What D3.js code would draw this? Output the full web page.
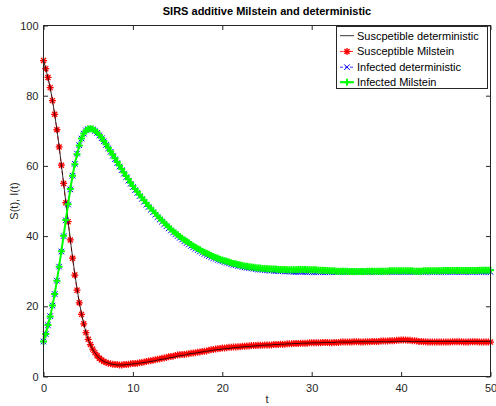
<!DOCTYPE html>
<html>
<head>
<meta charset="utf-8">
<script src="https://cdn.jsdelivr.net/npm/d3@7"></script>
<style>
  html, body { margin: 0; padding: 0; background: #fff; }
  svg { display: block; font-family: "Liberation Sans", Arial, Helvetica, sans-serif; }
</style>
</head>
<body>
<svg id="chart" width="496" height="406"></svg>
<script>
// Simulation step (time units) shared by all four trajectories
const dt = 0.25;

// Susceptible, deterministic ODE solution, t = 0 .. 50
const susDet = [
  90.0, 87.7, 85.1, 82.2, 78.7, 74.7, 70.3, 65.5, 60.3, 55.0, 49.6, 44.2, 39.0, 34.0, 29.3, 25.0, 21.2, 17.9, 15.0, 12.6,
  10.6, 9.0, 7.7, 6.7, 5.9, 5.2, 4.7, 4.3, 4.0, 3.8, 3.6, 3.5, 3.4, 3.3, 3.3, 3.3, 3.3, 3.4, 3.4, 3.5,
  3.6, 3.6, 3.7, 3.8, 3.9, 4.0, 4.1, 4.2, 4.3, 4.4, 4.5, 4.7, 4.8, 4.9, 5.0, 5.1, 5.3, 5.4, 5.5, 5.6,
  5.8, 5.9, 6.0, 6.1, 6.3, 6.4, 6.5, 6.6, 6.7, 6.8, 6.9, 7.0, 7.1, 7.2, 7.3, 7.4, 7.5, 7.6, 7.7, 7.7,
  7.8, 7.9, 8.0, 8.0, 8.1, 8.2, 8.2, 8.3, 8.4, 8.4, 8.5, 8.5, 8.6, 8.6, 8.7, 8.7, 8.8, 8.8, 8.9, 8.9,
  9.0, 9.0, 9.0, 9.1, 9.1, 9.1, 9.2, 9.2, 9.2, 9.3, 9.3, 9.3, 9.4, 9.4, 9.4, 9.4, 9.5, 9.5, 9.5, 9.5,
  9.6, 9.6, 9.6, 9.6, 9.6, 9.7, 9.7, 9.7, 9.7, 9.7, 9.7, 9.8, 9.8, 9.8, 9.8, 9.8, 9.8, 9.8, 9.8, 9.9,
  9.9, 9.9, 9.9, 9.9, 9.9, 9.9, 9.9, 9.9, 9.9, 9.9, 9.9, 9.9, 9.9, 9.9, 9.9, 9.9, 10.0, 10.0, 10.0, 10.0,
  10.0, 10.0, 10.0, 10.0, 10.0, 10.0, 10.0, 10.0, 10.0, 10.0, 10.0, 10.0, 10.0, 10.0, 10.0, 10.0, 10.0, 10.0, 10.0, 10.0,
  10.0, 10.0, 10.0, 10.0, 10.0, 10.0, 10.0, 10.0, 10.0, 10.0, 10.0, 10.0, 10.0, 10.0, 10.0, 10.0, 10.0, 10.0, 10.0, 10.0,
  10.0
];

// Susceptible, additive-noise Milstein path
const susMil = [
  90.0, 87.7, 85.2, 82.3, 78.6, 74.7, 70.3, 65.4, 60.2, 55.0, 49.5, 44.1, 38.9, 33.7, 28.9, 24.6, 21.0, 17.7, 15.0, 12.5,
  10.6, 9.1, 7.8, 6.8, 5.9, 5.2, 4.7, 4.3, 4.0, 3.8, 3.6, 3.5, 3.4, 3.4, 3.3, 3.3, 3.4, 3.4, 3.5, 3.6,
  3.7, 3.7, 3.8, 3.9, 4.0, 4.1, 4.3, 4.4, 4.5, 4.6, 4.8, 4.9, 5.0, 5.2, 5.3, 5.4, 5.6, 5.7, 5.8, 6.0,
  6.1, 6.2, 6.3, 6.3, 6.4, 6.5, 6.6, 6.7, 6.8, 6.9, 7.0, 7.1, 7.2, 7.3, 7.5, 7.6, 7.7, 7.8, 7.9, 8.0,
  8.1, 8.1, 8.2, 8.3, 8.3, 8.4, 8.4, 8.5, 8.5, 8.6, 8.6, 8.7, 8.7, 8.8, 8.8, 8.8, 8.9, 8.9, 8.9, 9.0,
  9.0, 9.0, 9.0, 9.1, 9.1, 9.1, 9.2, 9.2, 9.2, 9.3, 9.3, 9.3, 9.4, 9.4, 9.4, 9.5, 9.5, 9.5, 9.5, 9.6,
  9.6, 9.6, 9.6, 9.6, 9.6, 9.7, 9.7, 9.7, 9.6, 9.6, 9.7, 9.7, 9.7, 9.8, 9.8, 9.8, 9.8, 9.8, 9.8, 9.9,
  9.9, 9.9, 9.8, 9.8, 9.9, 9.9, 9.9, 10.0, 10.0, 10.0, 10.0, 10.1, 10.1, 10.1, 10.1, 10.2, 10.2, 10.2, 10.3, 10.3,
  10.4, 10.4, 10.4, 10.3, 10.3, 10.2, 10.2, 10.1, 10.0, 10.0, 9.9, 9.9, 9.8, 9.8, 9.8, 9.8, 9.8, 9.8, 9.8, 9.8,
  9.8, 9.8, 9.8, 9.9, 9.9, 9.9, 9.9, 9.9, 9.8, 9.8, 9.8, 9.9, 9.9, 9.9, 9.9, 9.8, 9.8, 9.8, 9.8, 9.8,
  9.8
];

// Infected, deterministic ODE solution
const infDet = [
  10.0, 12.1, 14.6, 17.2, 20.2, 23.5, 27.3, 31.3, 35.6, 40.0, 44.5, 49.0, 53.3, 57.2, 60.6, 63.5, 65.9, 67.8, 69.2, 70.1,
  70.5, 70.6, 70.4, 70.0, 69.4, 68.7, 67.9, 67.0, 66.0, 65.0, 64.0, 62.9, 61.9, 60.8, 59.8, 58.8, 57.8, 56.8, 55.8, 54.9,
  54.0, 53.1, 52.3, 51.4, 50.6, 49.8, 49.0, 48.3, 47.5, 46.8, 46.1, 45.4, 44.7, 44.1, 43.4, 42.8, 42.2, 41.6, 41.0, 40.5,
  40.0, 39.5, 39.0, 38.5, 38.0, 37.6, 37.2, 36.8, 36.4, 36.0, 35.6, 35.3, 34.9, 34.6, 34.3, 34.0, 33.7, 33.5, 33.2, 33.0,
  32.8, 32.6, 32.4, 32.2, 32.0, 31.8, 31.7, 31.5, 31.4, 31.2, 31.1, 31.0, 30.9, 30.8, 30.7, 30.6, 30.5, 30.5, 30.4, 30.3,
  30.3, 30.2, 30.2, 30.1, 30.1, 30.0, 30.0, 30.0, 29.9, 29.9, 29.9, 29.9, 29.8, 29.8, 29.8, 29.8, 29.8, 29.8, 29.7, 29.7,
  29.7, 29.7, 29.7, 29.7, 29.7, 29.7, 29.7, 29.7, 29.7, 29.7, 29.7, 29.7, 29.7, 29.7, 29.7, 29.7, 29.7, 29.7, 29.7, 29.7,
  29.7, 29.7, 29.7, 29.7, 29.7, 29.7, 29.7, 29.7, 29.7, 29.7, 29.8, 29.8, 29.8, 29.8, 29.8, 29.8, 29.8, 29.8, 29.8, 29.8,
  29.8, 29.8, 29.8, 29.8, 29.8, 29.8, 29.8, 29.8, 29.8, 29.8, 29.8, 29.8, 29.8, 29.8, 29.8, 29.8, 29.8, 29.8, 29.8, 29.8,
  29.8, 29.8, 29.8, 29.8, 29.8, 29.8, 29.8, 29.8, 29.8, 29.8, 29.8, 29.8, 29.8, 29.8, 29.8, 29.8, 29.8, 29.8, 29.8, 29.8,
  29.8
];

// Infected, additive-noise Milstein path
const infMil = [
  10.0, 12.1, 14.7, 17.1, 20.2, 23.5, 27.3, 31.3, 35.7, 40.1, 44.6, 49.1, 53.4, 57.2, 60.5, 63.3, 65.8, 67.8, 69.2, 70.1,
  70.5, 70.6, 70.5, 70.1, 69.5, 68.8, 68.0, 67.1, 66.2, 65.2, 64.2, 63.2, 62.2, 61.1, 60.1, 59.1, 58.1, 57.1, 56.2, 55.2,
  54.3, 53.4, 52.6, 51.8, 51.0, 50.2, 49.4, 48.6, 47.9, 47.2, 46.5, 45.8, 45.1, 44.5, 43.8, 43.2, 42.6, 42.0, 41.4, 40.9,
  40.4, 39.9, 39.4, 38.9, 38.5, 38.1, 37.6, 37.2, 36.8, 36.4, 36.1, 35.7, 35.4, 35.1, 34.8, 34.5, 34.2, 33.9, 33.7, 33.4,
  33.2, 33.0, 32.8, 32.6, 32.4, 32.2, 32.1, 31.9, 31.8, 31.6, 31.5, 31.4, 31.3, 31.2, 31.1, 31.0, 30.9, 30.9, 30.8, 30.8,
  30.7, 30.7, 30.6, 30.6, 30.6, 30.5, 30.5, 30.5, 30.5, 30.4, 30.4, 30.4, 30.4, 30.4, 30.5, 30.5, 30.5, 30.5, 30.4, 30.4,
  30.4, 30.4, 30.4, 30.3, 30.3, 30.3, 30.2, 30.2, 30.1, 30.1, 30.1, 30.0, 30.0, 30.0, 30.0, 30.0, 30.0, 29.9, 29.9, 29.9,
  29.9, 29.9, 29.9, 29.9, 29.9, 30.0, 30.0, 30.0, 30.0, 30.0, 30.0, 30.0, 30.0, 30.0, 30.0, 30.1, 30.1, 30.1, 30.1, 30.1,
  30.1, 30.1, 30.1, 30.1, 30.1, 30.1, 30.0, 30.0, 30.0, 30.0, 30.1, 30.1, 30.1, 30.1, 30.1, 30.1, 30.1, 30.1, 30.1, 30.2,
  30.2, 30.2, 30.2, 30.2, 30.2, 30.2, 30.2, 30.2, 30.2, 30.2, 30.2, 30.2, 30.2, 30.2, 30.2, 30.3, 30.3, 30.3, 30.3, 30.3,
  30.3
];

const xTicks = [0, 10, 20, 30, 40, 50];
const yTicks = [0, 20, 40, 60, 80, 100];
const legendLabels = [
  "Suscpetible deterministic",
  "Susceptible Milstein",
  "Infected deterministic",
  "Infected Milstein"
];
const titleText = "SIRS additive Milstein and deterministic";
const xLabel = "t";
const yLabel = "S(t), I(t)";

// ---------------------------------------------------------------
const ink = "#262626";
const svg = d3.select("#chart");
const box = { left: 43.5, right: 490.5, top: 25.5, bottom: 376.5 };

const x = d3.scaleLinear().domain([0, 50]).range([box.left, box.right]);
const y = d3.scaleLinear().domain([0, 100]).range([box.bottom, box.top]);

const toPoints = arr => arr.map((v, i) => ({ t: i * dt, v }));
const line = d3.line().x(d => x(d.t)).y(d => y(d.v));

// marker glyphs (MATLAB-style)
function starPath(cx, cy, r) {
  const d = r * 0.72;
  return `M${cx - r},${cy}H${cx + r}M${cx},${cy - r}V${cy + r}` +
         `M${cx - d},${cy - d}L${cx + d},${cy + d}M${cx - d},${cy + d}L${cx + d},${cy - d}`;
}
function crossPath(cx, cy, r) {
  return `M${cx - r},${cy - r}L${cx + r},${cy + r}M${cx - r},${cy + r}L${cx + r},${cy - r}`;
}
function plusPath(cx, cy, r) {
  return `M${cx - r},${cy}H${cx + r}M${cx},${cy - r}V${cy + r}`;
}

const series = {
  sDet: { data: toPoints(susDet), color: "#000000", width: 0.8, dash: null, marker: null, mr: 0, mw: 0 },
  sMil: { data: toPoints(susMil), color: "#ff0000", width: 0.8, dash: "4,3", marker: starPath, mr: 3.5, mw: 1.3 },
  iDet: { data: toPoints(infDet), color: "#0000ff", width: 0.8, dash: "4,3", marker: crossPath, mr: 2.8, mw: 1 },
  iMil: { data: toPoints(infMil), color: "#00ff00", width: 2, dash: null, marker: plusPath, mr: 3.5, mw: 2 }
};

// axes frame + ticks
const gx = svg.append("g");
const bottomAxis = d3.axisBottom(x).tickValues(xTicks).tickSizeInner(-4.5).tickSizeOuter(0).tickPadding(8);
const topAxis = d3.axisTop(x).tickValues(xTicks).tickSizeInner(-4.5).tickSizeOuter(0).tickFormat("");
const leftAxis = d3.axisLeft(y).tickValues(yTicks).tickSizeInner(-4.5).tickSizeOuter(0).tickPadding(5);
const rightAxis = d3.axisRight(y).tickValues(yTicks).tickSizeInner(-4.5).tickSizeOuter(0).tickFormat("");

function styleAxis(g) {
  g.select(".domain").remove();
  g.selectAll(".tick line").attr("stroke", ink).attr("stroke-width", 1);
  g.selectAll(".tick text").attr("fill", ink).style("font-size", "11px")
    .style("font-family", '"Liberation Sans", Arial, sans-serif');
}
gx.append("g").attr("transform", `translate(0,${box.bottom})`).call(bottomAxis).call(styleAxis);
gx.append("g").attr("transform", `translate(0,${box.top})`).call(topAxis).call(styleAxis);
gx.append("g").attr("transform", `translate(${box.left},0)`).call(leftAxis).call(styleAxis);
gx.append("g").attr("transform", `translate(${box.right},0)`).call(rightAxis).call(styleAxis);

const plotG = svg.append("g");

function drawSeries(s) {
  const g = plotG.append("g");
  g.append("path").datum(s.data)
    .attr("d", line)
    .attr("fill", "none")
    .attr("stroke", s.color)
    .attr("stroke-width", s.width)
    .attr("stroke-dasharray", s.dash);
  if (s.marker) {
    g.append("path")
      .attr("d", s.data.map(d => s.marker(x(d.t), y(d.v), s.mr)).join(""))
      .attr("fill", "none")
      .attr("stroke", s.color)
      .attr("stroke-width", s.mw);
  }
}
drawSeries(series.sMil);
drawSeries(series.sDet);
drawSeries(series.iDet);
drawSeries(series.iMil);

// frame
svg.append("rect")
  .attr("x", box.left).attr("y", box.top)
  .attr("width", box.right - box.left).attr("height", box.bottom - box.top)
  .attr("fill", "none").attr("stroke", ink).attr("stroke-width", 1);

// title and axis labels
svg.append("text")
  .attr("x", (box.left + box.right) / 2).attr("y", 14.7)
  .attr("text-anchor", "middle")
  .style("font-size", "11px").style("font-weight", "bold")
  .attr("fill", "#000").text(titleText);

svg.append("text")
  .attr("x", (box.left + box.right) / 2).attr("y", 403)
  .attr("text-anchor", "middle")
  .style("font-size", "11px").attr("fill", ink).text(xLabel);

svg.append("text")
  .attr("transform", `translate(17.5,${(box.top + box.bottom) / 2}) rotate(-90)`)
  .attr("text-anchor", "middle")
  .style("font-size", "11px").attr("fill", ink).text(yLabel);

// legend
const leg = svg.append("g");
const legBox = { x: 336.5, y: 26.5, w: 151, h: 62 };
leg.append("rect")
  .attr("x", legBox.x).attr("y", legBox.y).attr("width", legBox.w).attr("height", legBox.h)
  .attr("fill", "#fff").attr("stroke", ink).attr("stroke-width", 1);

const legRows = [series.sDet, series.sMil, series.iDet, series.iMil];
const rowY = [35.7, 51.5, 67.2, 82.2];
legRows.forEach((s, i) => {
  const cy = rowY[i];
  leg.append("path")
    .attr("d", `M340,${cy}H354`)
    .attr("stroke", s.color).attr("stroke-width", s.width)
    .attr("stroke-dasharray", s.dash ? "3,2" : null)
    .attr("fill", "none");
  if (s.marker) {
    leg.append("path")
      .attr("d", s.marker(347, cy, s.mr))
      .attr("stroke", s.color).attr("stroke-width", s.mw).attr("fill", "none");
  }
  leg.append("text")
    .attr("x", 357).attr("y", cy).attr("dy", "0.36em")
    .style("font-size", "11px").attr("fill", "#000")
    .text(legendLabels[i]);
});
</script>
</body>
</html>
